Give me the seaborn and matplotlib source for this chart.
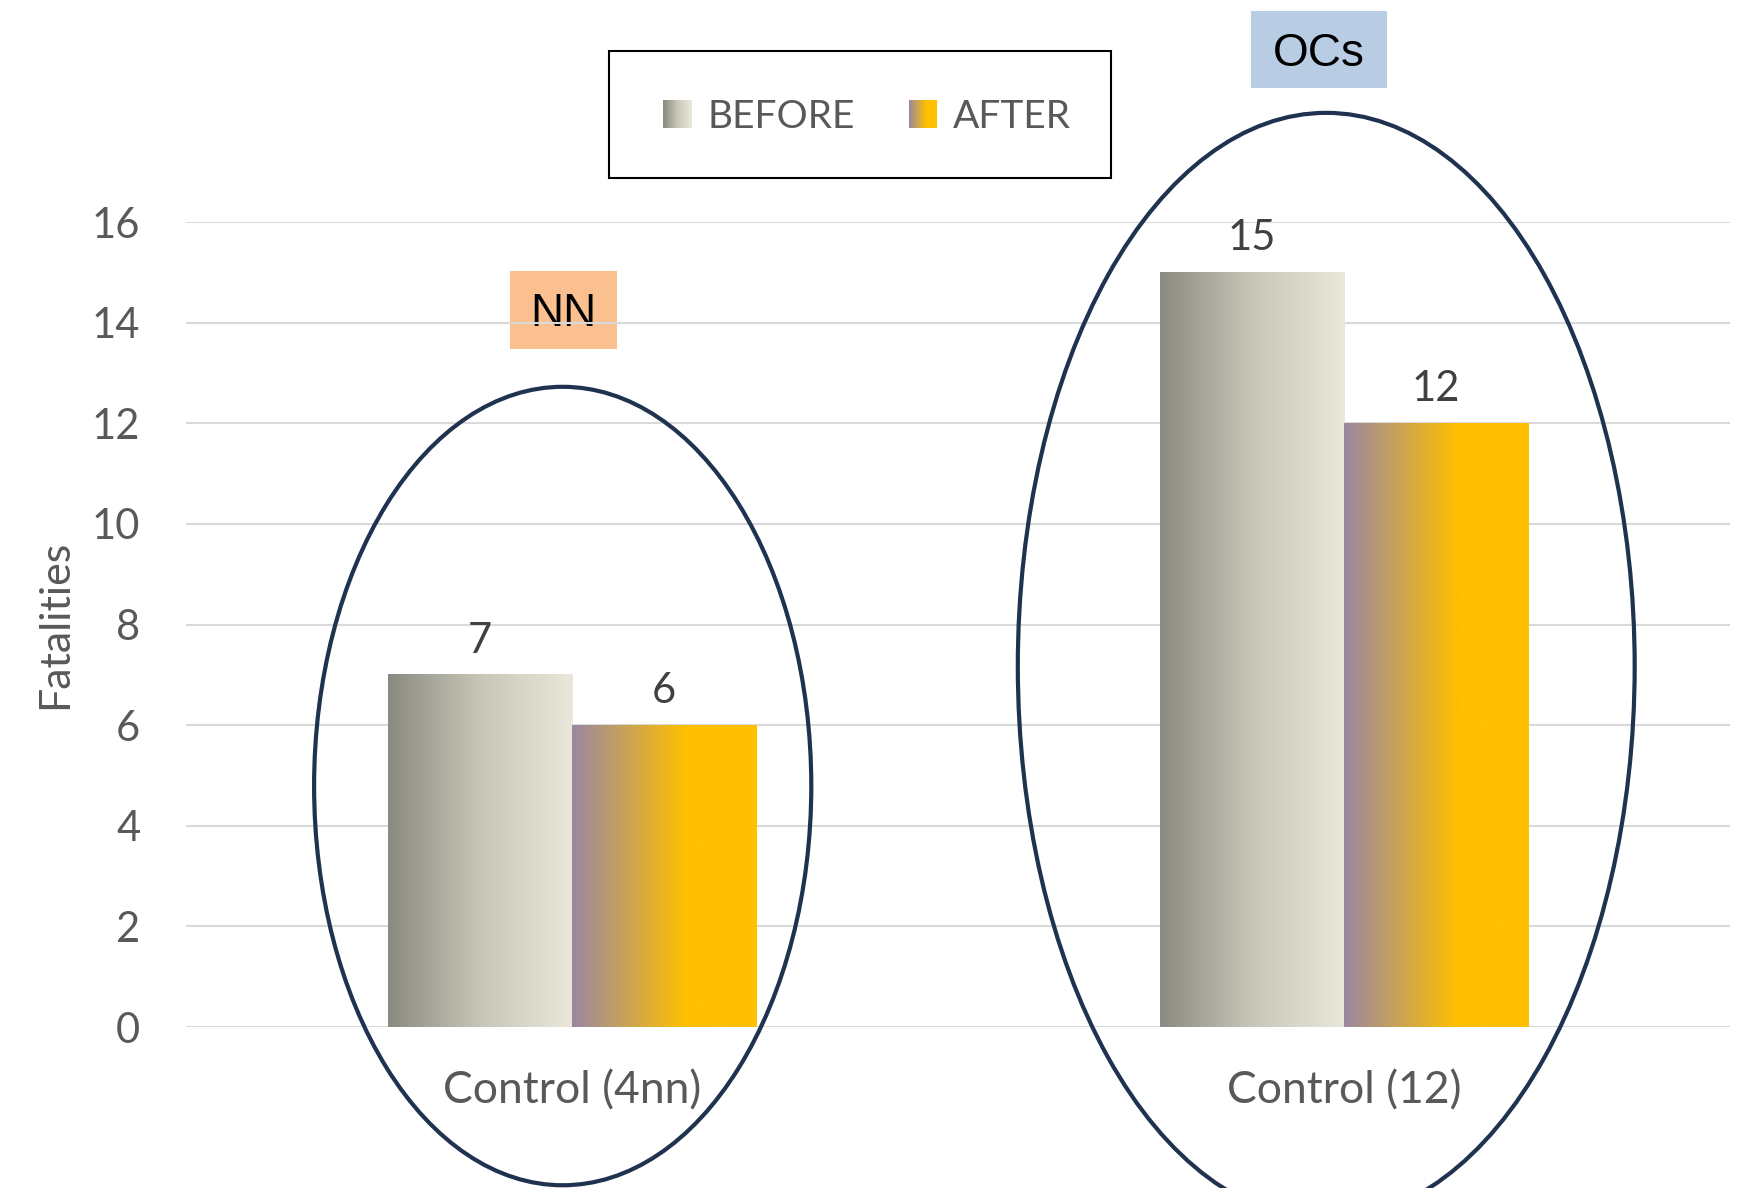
import numpy as np
import pandas as pd
import matplotlib
matplotlib.use("Agg")
import matplotlib.pyplot as plt
from matplotlib.patches import Rectangle, Ellipse, Patch
from matplotlib.colors import LinearSegmentedColormap
from matplotlib.legend_handler import HandlerBase
import seaborn as sns

# ---- data ----
categories = ["Control (4nn)", "Control (12)"]
series_names = ["BEFORE", "AFTER"]
before_values = [7, 15]
after_values = [6, 12]
group_tags = ["NN", "OCs"]
y_ticks = [0, 2, 4, 6, 8, 10, 12, 14, 16]

df = pd.DataFrame({
    "category": categories * 2,
    "period": [series_names[0]] * 2 + [series_names[1]] * 2,
    "value": before_values + after_values,
})

sns.set_theme(style="white")
plt.rcParams["font.family"] = ["Lato", "DejaVu Sans"]

TEXT_GREY = "#595959"
LABEL_GREY = "#404040"
NAVY = "#1F3250"

cmap_before = LinearSegmentedColormap.from_list("before", ["#8A8A80", "#C8C6B8", "#EAE8DA"])
cmap_after = LinearSegmentedColormap.from_list(
    "after", [(0.0, "#9A88A2"), (0.62, "#FFC000"), (1.0, "#FFC000")])
cmaps = {series_names[0]: cmap_before, series_names[1]: cmap_after}

fig = plt.figure(figsize=(17.41, 11.88), dpi=100)
ax = fig.add_axes([0.1068, 0.1355, 0.8869, 0.6776])
ax.set_facecolor("none")

sns.barplot(data=df, x="category", y="value", hue="period", hue_order=series_names,
            order=categories, palette=["#C8C6B8", "#FFC000"], width=0.477,
            legend=False, ax=ax, zorder=3)

ax.set_xlim(-0.5, 1.5)
ax.set_ylim(0, 16)
ax.set_yticks(y_ticks)

# horizontal gradient fill for each bar
grad = np.linspace(0, 1, 256).reshape(1, -1)
for container, name in zip(ax.containers, series_names):
    for bar in container:
        x0, y0 = bar.get_x(), bar.get_y()
        w, h = bar.get_width(), bar.get_height()
        ax.imshow(grad, cmap=cmaps[name], aspect="auto", interpolation="bilinear",
                  extent=(x0, x0 + w, y0, y0 + h), zorder=3)
        bar.set_facecolor("none")
        bar.set_edgecolor("none")
    ax.bar_label(container, padding=11, fontsize=30, color=LABEL_GREY)

ax.set_xlim(-0.5, 1.5)
ax.set_ylim(0, 16)

ax.yaxis.grid(True, color="#D9D9D9", linewidth=1.5)
ax.set_axisbelow(True)
for s in ax.spines.values():
    s.set_visible(False)
ax.tick_params(axis="both", length=0, labelsize=30, labelcolor=TEXT_GREY)
ax.tick_params(axis="x", labelsize=32, pad=31)
ax.tick_params(axis="y", pad=33)
ax.set_xlabel("")
ax.set_ylabel("Fatalities", fontsize=31, color=TEXT_GREY)
ax.yaxis.set_label_coords(-0.0725, 0.5)

# ellipses around each group
ellipses = [(-0.012, 4.79, 0.644, 15.87), (0.977, 7.17, 0.799, 22.0)]
for cx, cy, ew, eh in ellipses:
    ax.add_patch(Ellipse((cx, cy), ew, eh, fill=False, edgecolor=NAVY,
                         linewidth=3.0, clip_on=False, zorder=6))

# group tags
W, H = 1741, 1188
tag_boxes = [((510, 271, 617, 349), "#FAC090"), ((1251, 11, 1387, 88), "#B8CCE4")]
for tag, ((l, t, r, b), col) in zip(group_tags, tag_boxes):
    fig.patches.append(Rectangle((l / W, 1 - b / H), (r - l) / W, (b - t) / H,
                                 transform=fig.transFigure, facecolor=col,
                                 edgecolor="none", zorder=-2))
    fig.text((l + r) / 2 / W, 1 - ((t + b) / 2 + 4.5) / H, tag, ha="center",
             va="center", fontsize=33, color="black",
             family=["Liberation Sans", "DejaVu Sans"], zorder=-1)


# legend with gradient swatches
class GradientHandler(HandlerBase):
    def __init__(self, cmap, n=40):
        super().__init__()
        self.cmap = cmap
        self.n = n

    def create_artists(self, legend, orig_handle, xdescent, ydescent, width, height,
                       fontsize, trans):
        arts = []
        sw = width / self.n
        for i in range(self.n):
            arts.append(Rectangle((-xdescent + i * sw, -ydescent), sw * 1.05, height,
                                  facecolor=self.cmap((i + 0.5) / self.n),
                                  edgecolor="none", transform=trans))
        return arts


handles = [Patch(label=n) for n in series_names]
hmap = {h: GradientHandler(cmaps[n]) for h, n in zip(handles, series_names)}

lb = (609, 51, 1111, 178)
fig.patches.append(Rectangle((lb[0] / W, 1 - lb[3] / H), (lb[2] - lb[0]) / W,
                             (lb[3] - lb[1]) / H, transform=fig.transFigure,
                             facecolor="white", edgecolor="black", linewidth=1.5,
                             zorder=1))
fig.legend(handles=handles, handler_map=hmap, ncol=2, frameon=False,
           loc="center", bbox_to_anchor=((lb[0] + lb[2]) / 2 / W + 0.004,
                                         1 - ((lb[1] + lb[3]) / 2 + 2) / H),
           fontsize=28, labelcolor=TEXT_GREY, handlelength=0.72, handleheight=0.72,
           handletextpad=0.4, columnspacing=1.4)

fig.savefig("out.png", dpi=100)
